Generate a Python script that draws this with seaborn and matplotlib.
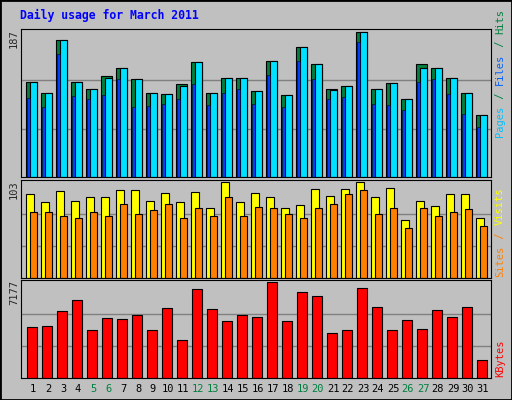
import matplotlib
matplotlib.use("Agg")
import matplotlib.pyplot as plt
import seaborn as sns
import numpy as np

sns.set_style("white")
plt.rcParams['font.family'] = ['DejaVu Sans Mono', 'DejaVu Sans']

days = list(range(1, 32))
weekend = [5, 6, 12, 13, 19, 20, 26, 27]
hits = [123,108,177,122,113,130,141,126,108,107,120,148,108,127,127,111,149,106,167,146,113,117,187,113,121,100,145,140,127,108,80]
files = [123,108,177,122,113,127,141,126,108,107,117,148,108,127,127,111,149,106,167,146,112,117,187,113,121,100,141,140,127,108,80]
pages = [102,90,158,104,100,106,126,90,92,94,100,120,93,108,113,94,132,90,149,126,100,103,174,94,93,86,122,126,107,81,64]
sites = [90,81,93,83,87,87,94,94,83,91,81,92,75,103,82,91,87,75,78,95,88,95,103,87,97,62,83,77,90,90,64]
visits = [71,71,66,64,71,66,79,69,73,79,64,75,66,87,67,76,75,69,64,75,79,90,94,69,75,54,75,66,71,74,56]
kbytes = [3786,3865,4969,5836,3549,4496,4417,4732,3549,5205,2839,6625,5127,4259,4732,4574,7177,4259,6388,6152,3391,3549,6704,5284,3549,4338,3628,5048,4574,5284,1341]

W, H = 512, 400
fig = plt.figure(figsize=(W/100, H/100), dpi=100, facecolor='#C0C0C0')
d = np.array(days)

def axpix(x0, y0, x1, y1):
    return fig.add_axes([x0/W, 1-y1/H, (x1-x0)/W, (y1-y0)/H])

XL = (0.343, 31.67)
panels = [axpix(21, 29, 491, 177), axpix(21, 180, 491, 278), axpix(21, 280, 491, 378)]
for ax, mx in zip(panels, [187, 103, 7177]):
    ax.set_facecolor('#C0C0C0')
    ax.set_xlim(*XL)
    ax.set_ylim(0, mx*1.005)
    for f in (1/3, 2/3):
        ax.axhline(mx*f, color='#808080', lw=1, zorder=0)
    ax.set_xticks([]); ax.set_yticks([])
    for s in ax.spines.values():
        s.set_color('black')
panels[0].set_ylim(0, 187*1.02)

ek = dict(edgecolor='black', linewidth=0.8, align='edge')
a = panels[0]
a.bar(d-0.35, hits, width=0.76, color='#008040', **ek)
a.bar(d-0.083, files, width=0.493, color='#00E0FF', **ek)
a.bar(d-0.257, pages, width=0.173, color='#0040FF', edgecolor='black', linewidth=0.4, align='edge')
a = panels[1]
a.set_ylim(0, 103*1.02)
a.bar(d-0.35, sites, width=0.56, color='#FFFF00', **ek)
a.bar(d-0.083, visits, width=0.493, color='#FF8000', **ek)
a = panels[2]
a.set_ylim(0, 7177*1.02)
a.bar(d-0.283, kbytes, width=0.693, color='#FF0000', **ek)

for i in days:
    xp = 25.3 + 15*(i-1) + 7.7
    fig.text(xp/W, 1-389/H, str(i), ha='center', va='center', fontsize=7.5,
             color='#008040' if i in weekend else 'black')

fig.text(20/W, 1-15/H, 'Daily usage for March 2011', color='#0000FF', fontsize=8.3,
         fontweight='bold', va='center', ha='left')

for lab, y in [('187', 29), ('103', 180), ('7177', 280)]:
    fig.text(14/W, 1-y/H, lab, rotation=90, ha='center', va='top', fontsize=7.5)

def vstack(parts, ybot):
    y = ybot
    for txt, col in parts:
        t = fig.text(500/W, 1-y/H, txt, rotation=90, ha='center', va='bottom', fontsize=7.5, color=col)
        y -= 6.2*len(txt) + 1
vstack([('Pages', '#00C0FF'), (' / ', '#008040'), ('Files', '#0060FF'), (' / ', '#008040'), ('Hits', '#008040')], 137)
vstack([('Sites', '#FF8000'), (' / ', '#FF8000'), ('Visits', '#FFFF00')], 277)
vstack([('KBytes', '#FF0000')], 377)

fig.patches.append(plt.Rectangle((0, 0), 1, 1, transform=fig.transFigure, fill=False,
                                 edgecolor='black', lw=2))
fig.savefig('out.png', dpi=100, facecolor='#C0C0C0')
